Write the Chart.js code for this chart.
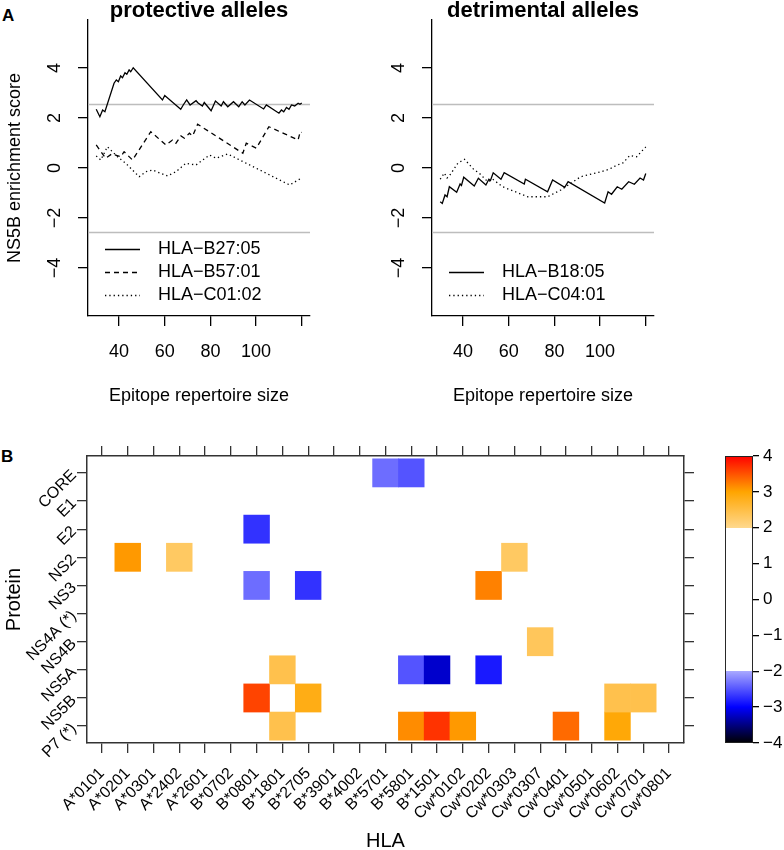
<!DOCTYPE html>
<html>
<head>
<meta charset="utf-8">
<script src="https://cdn.jsdelivr.net/npm/chart.js@4.4.1/dist/chart.umd.min.js"></script>
<style>
  body { margin: 0; background: #fff; }
  #wrap { position: relative; width: 784px; height: 850px; overflow: hidden; font-family: 'Liberation Sans', Arial, sans-serif; }
  canvas { position: absolute; }
  .panel { position: absolute; font-weight: bold; font-size: 17px; line-height: 20px; }
</style>
</head>
<body>
<div id="wrap">
  <div class="panel" style="left:2px;top:6px">A</div>
  <div class="panel" style="left:1px;top:447px">B</div>
  <canvas id="protective" width="330" height="416" style="left:0;top:-4px"></canvas>
  <canvas id="detrimental" width="330" height="416" style="left:344px;top:-4px"></canvas>
  <canvas id="heat" width="700" height="414" style="left:0;top:436px"></canvas>
  <canvas id="scale" width="72" height="414" style="left:712px;top:436px"></canvas>
</div>
<script>
// ---- panel A : NS5B running enrichment score vs epitope repertoire size ----
// protective alleles
const b2705X = [30, 31.6, 32.8, 33.8, 37.8, 38.8, 39.7, 40.7, 41.5, 42.6, 43.4, 44.4, 45.1, 46.2, 59, 60, 67, 68.1, 69.6, 71.1, 73.7, 74.6, 76.5, 77.3, 80.3, 82.2, 84.7, 85.7, 87.6, 90.1, 92.4, 93.9, 95.1, 97.1, 103.3, 104.5, 110, 111.1, 112.1, 113.3, 114.4, 115.5, 116.9, 118.4, 119.2, 120];
const b2705Y = [2.35, 2.05, 2.32, 2.25, 3.39, 3.52, 3.45, 3.68, 3.61, 3.81, 3.75, 3.92, 3.85, 4.01, 2.72, 2.9, 2.35, 2.52, 2.72, 2.52, 2.69, 2.6, 2.48, 2.62, 2.29, 2.68, 2.48, 2.65, 2.45, 2.65, 2.45, 2.65, 2.52, 2.72, 2.36, 2.52, 2.19, 2.32, 2.25, 2.42, 2.35, 2.52, 2.48, 2.59, 2.55, 2.6];

const b5701X = [30, 34.1, 36.8, 40.7, 42.2, 45.9, 53.9, 60.5, 63.4, 64.9, 67.1, 68.6, 70.8, 72.2, 74.4, 94.2, 95.7, 100.1, 105.6, 118.4, 119.3, 120];
const b5701Y = [0.92, 0.39, 0.56, 0.45, 0.65, 0.32, 1.45, 0.92, 1.12, 0.99, 1.28, 1.19, 1.39, 1.28, 1.75, 0.59, 0.99, 0.79, 1.65, 1.12, 1.45, 1.42];

const c0102X = [30, 32, 34.9, 37.1, 39.3, 42.9, 48.8, 51.7, 54.6, 61.2, 64.9, 69.3, 73.7, 79.6, 82.5, 87.6, 114.7, 118.4, 120];
const c0102Y = [0.48, 0.32, 0.85, 0.65, 0.45, 0.19, -0.35, -0.15, -0.08, -0.32, -0.15, 0.19, 0.12, 0.52, 0.39, 0.56, -0.68, -0.48, -0.4];

// detrimental alleles
const b1805X = [30, 30.9, 32.1, 33, 34, 37.2, 38.7, 39.3, 40.3, 44.9, 46.7, 50, 51.3, 52, 53.2, 56.6, 58, 66.8, 67.3, 77, 79.2, 84.5, 86, 102, 103.5, 105, 107.5, 109.5, 112.5, 115, 117.5, 119, 120];
const b1805Y = [-1.35, -1.42, -1.08, -1.15, -0.75, -0.97, -0.64, -0.7, -0.37, -0.72, -0.41, -0.68, -0.45, -0.5, -0.19, -0.45, -0.19, -0.64, -0.45, -0.95, -0.48, -0.77, -0.55, -1.4, -0.95, -1.05, -0.75, -0.85, -0.55, -0.65, -0.4, -0.48, -0.22];

const c0401X = [30, 31.8, 33, 34.5, 37.7, 40.6, 44.9, 47, 50.8, 53, 57.3, 68.3, 77, 82.8, 91.5, 100.3, 104, 107, 110, 113, 116, 118, 120];
const c0401Y = [-0.45, -0.2, -0.4, -0.25, 0.19, 0.35, -0.08, -0.2, -0.55, -0.45, -0.75, -1.15, -1.15, -0.88, -0.35, -0.15, -0.05, 0.1, 0.2, 0.5, 0.45, 0.65, 0.84];

const significance = 2.57;   // grey lines at +/- this score
const repertoireTicks = [40, 60, 80, 100, 120];
const repertoireLabels = ['40', '60', '80', '100', ''];
const scoreTicks = [-4, -2, 0, 2, 4];

// ---- panel B : heatmap of enrichment per protein / HLA ----
const proteins = ['CORE', 'E1', 'E2', 'NS2', 'NS3', 'NS4A (*)', 'NS4B', 'NS5A', 'NS5B', 'P7 (*)'];
const hlaAlleles = ['A*0101', 'A*0201', 'A*0301', 'A*2402', 'A*2601', 'B*0702', 'B*0801', 'B*1801', 'B*2705', 'B*3901', 'B*4002', 'B*5701', 'B*5801', 'B*1501', 'Cw*0102', 'Cw*0202', 'Cw*0303', 'Cw*0307', 'Cw*0401', 'Cw*0501', 'Cw*0602', 'Cw*0701', 'Cw*0801'];
const cellProtein = ['CORE', 'CORE', 'E2', 'NS2', 'NS2', 'NS2', 'NS3', 'NS3', 'NS3', 'NS4B', 'NS5A', 'NS5A', 'NS5A', 'NS5A', 'NS5B', 'NS5B', 'NS5B', 'NS5B', 'P7 (*)', 'P7 (*)', 'P7 (*)', 'P7 (*)', 'P7 (*)', 'P7 (*)'];
const cellHla = ['B*5701', 'B*5801', 'B*0801', 'A*0201', 'A*2402', 'Cw*0303', 'B*0801', 'B*2705', 'Cw*0202', 'Cw*0307', 'B*1801', 'B*5801', 'B*1501', 'Cw*0202', 'B*0801', 'B*2705', 'Cw*0602', 'Cw*0701', 'B*1801', 'B*5801', 'B*1501', 'Cw*0102', 'Cw*0401', 'Cw*0602'];
const cellScore = [-2.35, -2.5, -2.7, 3.07, 2.3, 2.3, -2.35, -2.7, 3.22, 2.35, 2.45, -2.5, -3.2, -2.85, 3.59, 2.85, 2.45, 2.45, 2.45, 3.15, 3.69, 3.07, 3.36, 2.95];

const colourBreaks = [-4, -3, -2, -2, 2, 2, 3, 4];
const colourKeyTicks = [-4, -3, -2, -1, 0, 1, 2, 3, 4];

// colour ramp used by both the cells and the key
const rampColours = ['#000000', '#0000ff', '#a8a8ff', '#ffffff', '#ffffff', '#ffd88c', '#ffa500', '#ff0000'];

Chart.defaults.font.family = "'Liberation Sans', Arial, sans-serif";
Chart.defaults.color = '#000';
Chart.defaults.animation = false;

const minus = v => (v < 0 ? '\u2212' + Math.abs(v) : String(v));

function hexRgb(h) {
  return [parseInt(h.slice(1, 3), 16), parseInt(h.slice(3, 5), 16), parseInt(h.slice(5, 7), 16)];
}

function scoreColour(v) {
  for (let i = 0; i < colourBreaks.length - 1; i++) {
    const a = colourBreaks[i], b = colourBreaks[i + 1];
    if (a === b) continue;
    if (v >= a && v <= b) {
      const t = (v - a) / (b - a);
      const c1 = hexRgb(rampColours[i]), c2 = hexRgb(rampColours[i + 1]);
      const c = c1.map((x, k) => Math.round(x + (c2[k] - x) * t));
      return 'rgb(' + c.join(',') + ')';
    }
  }
  return '#ffffff';
}

// horizontal grey reference lines
const refLines = {
  id: 'refLines',
  beforeDatasetsDraw(chart, args, opts) {
    const { ctx, chartArea: a, scales: { y } } = chart;
    ctx.save();
    ctx.strokeStyle = '#bdbdbd';
    ctx.lineWidth = 1.5;
    opts.values.forEach(v => {
      const py = Math.round(y.getPixelForValue(v)) + 0.5;
      ctx.beginPath();
      ctx.moveTo(a.left, py);
      ctx.lineTo(a.right, py);
      ctx.stroke();
    });
    ctx.restore();
  }
};

// legend drawn inside the bottom-left of the plot, no box
const inlineLegend = {
  id: 'inlineLegend',
  afterDatasetsDraw(chart) {
    const { ctx, chartArea: a } = chart;
    const sets = chart.data.datasets;
    ctx.save();
    ctx.font = "18px 'Liberation Sans', Arial, sans-serif";
    ctx.fillStyle = '#000';
    ctx.textBaseline = 'middle';
    sets.forEach((ds, i) => {
      const y = a.bottom - 21 - (sets.length - 1 - i) * 23;
      ctx.beginPath();
      ctx.setLineDash(ds.borderDash || []);
      ctx.lineWidth = ds.borderWidth;
      ctx.strokeStyle = ds.borderColor;
      ctx.moveTo(a.left + 17, y + 0.5);
      ctx.lineTo(a.left + 52, y + 0.5);
      ctx.stroke();
      ctx.fillText(ds.label, a.left + 70, y);
    });
    ctx.restore();
  }
};

function lineChart(id, title, series, yTitle) {
  return new Chart(document.getElementById(id), {
    type: 'line',
    data: {
      datasets: series.map(s => ({
        label: s.label,
        data: s.xs.map((x, i) => ({ x: x, y: s.ys[i] })),
        borderColor: '#000',
        borderWidth: 1.3,
        borderDash: s.dash,
        pointRadius: 0,
        tension: 0,
        fill: false
      }))
    },
    options: {
      responsive: false,
      devicePixelRatio: 1,
      layout: { padding: { left: 0, right: 20, top: 0, bottom: 0 } },
      plugins: {
        legend: { display: false },
        tooltip: { enabled: false },
        title: {
          display: true, text: title, fullSize: false, color: '#000',
          font: { size: 22, weight: 'bold', lineHeight: 0.64 },
          padding: { top: 8, bottom: 1.9 }
        },
        refLines: { values: [significance, -significance] }
      },
      scales: {
        x: {
          type: 'linear', min: 26.4, max: 123.6,
          afterBuildTicks: sc => { sc.ticks = repertoireTicks.map(v => ({ value: v })); },
          ticks: { callback: (v, i) => repertoireLabels[i], autoSkip: false, maxRotation: 0, font: { size: 18 }, padding: 15 },
          grid: { drawOnChartArea: false, tickLength: 10, color: '#000', lineWidth: 1.3 },
          border: { display: true, color: '#000', width: 1.3 },
          title: { display: true, text: 'Epitope repertoire size', font: { size: 18 }, padding: { top: 0, bottom: 5 } },
          afterFit: sc => { sc.height = 96; }
        },
        y: {
          type: 'linear', min: -5.92, max: 5.92,
          afterBuildTicks: sc => { sc.ticks = scoreTicks.map(v => ({ value: v })); },
          ticks: { callback: v => minus(v), minRotation: 90, maxRotation: 90, crossAlign: 'center', font: { size: 18 }, padding: 13 },
          grid: { drawOnChartArea: false, tickLength: 10, color: '#000', lineWidth: 1.3 },
          border: { display: true, color: '#000', width: 1.3 },
          title: { display: !!yTitle, text: yTitle || '', font: { size: 18 }, padding: { top: 4, bottom: 0 } },
          afterFit: sc => { sc.width = 88; }
        }
      }
    },
    plugins: [refLines, inlineLegend]
  });
}

lineChart('protective', 'protective alleles', [
  { label: 'HLA\u2212B27:05', xs: b2705X, ys: b2705Y, dash: [] },
  { label: 'HLA\u2212B57:01', xs: b5701X, ys: b5701Y, dash: [5, 4] },
  { label: 'HLA\u2212C01:02', xs: c0102X, ys: c0102Y, dash: [1.3, 3] }
], 'NS5B enrichment score');

lineChart('detrimental', 'detrimental alleles', [
  { label: 'HLA\u2212B18:05', xs: b1805X, ys: b1805Y, dash: [] },
  { label: 'HLA\u2212C04:01', xs: c0401X, ys: c0401Y, dash: [1.3, 3] }
], null);

// ---- heatmap ----
const heatSets = proteins.map((p, r) => {
  const idx = cellProtein.map((q, k) => (q === p ? k : -1)).filter(k => k >= 0);
  return {
    label: p,
    data: idx.map(k => ({ x: hlaAlleles.indexOf(cellHla[k]), y: [r - 0.5, r + 0.5] })),
    backgroundColor: idx.map(k => scoreColour(cellScore[k])),
    borderWidth: 0,
    barPercentage: 1,
    categoryPercentage: 1,
    grouped: false
  };
}).filter(ds => ds.data.length);

const colTicks = sc => { sc.ticks = hlaAlleles.map((h, i) => ({ value: i })); };
const rowTicks = sc => { sc.ticks = proteins.map((p, i) => ({ value: i })); };
const frameGrid = { drawOnChartArea: false, offset: false, tickLength: 10, color: '#333', lineWidth: 1.3 };
const frameBorder = { display: true, color: '#333', width: 1.5 };

new Chart(document.getElementById('heat'), {
  type: 'bar',
  data: { datasets: heatSets },
  options: {
    responsive: false,
    devicePixelRatio: 1,
    layout: { padding: 0 },
    plugins: { legend: { display: false }, tooltip: { enabled: false } },
    scales: {
      x: {
        type: 'linear', position: 'bottom', min: -0.58, max: 22.58, offset: false,
        afterBuildTicks: colTicks,
        ticks: { callback: (v, i) => hlaAlleles[i], autoSkip: false, minRotation: 45, maxRotation: 45, font: { size: 16 }, padding: 11 },
        grid: frameGrid, border: frameBorder,
        title: { display: true, text: 'HLA', font: { size: 20, lineHeight: 0.9 }, padding: { top: 0, bottom: 0 } },
        afterFit: sc => { sc.height = 107; }
      },
      x2: {
        type: 'linear', position: 'top', min: -0.58, max: 22.58, offset: false,
        afterBuildTicks: colTicks,
        ticks: { display: false },
        grid: frameGrid, border: frameBorder,
        afterFit: sc => { sc.height = 20; }
      },
      y: {
        type: 'linear', position: 'left', reverse: true, min: -0.6, max: 9.6,
        afterBuildTicks: rowTicks,
        ticks: { callback: (v, i) => proteins[i], autoSkip: false, minRotation: 45, maxRotation: 45, font: { size: 16 }, padding: 3 },
        grid: frameGrid, border: frameBorder,
        title: { display: true, text: 'Protein', font: { size: 20 }, padding: { top: 2, bottom: 0 } },
        afterFit: sc => { sc.width = 87; }
      },
      y2: {
        type: 'linear', position: 'right', reverse: true, min: -0.6, max: 9.6,
        afterBuildTicks: rowTicks,
        ticks: { display: false },
        grid: frameGrid, border: frameBorder,
        afterFit: sc => { sc.width = 16; }
      }
    }
  }
});

// ---- colour key ----
const keyMin = colourBreaks[0];
const keyMax = colourBreaks[colourBreaks.length - 1];

new Chart(document.getElementById('scale'), {
  type: 'bar',
  data: {
    labels: [''],
    datasets: [{
      data: [[keyMin, keyMax]],
      backgroundColor: c => {
        const chart = c.chart;
        if (!chart.chartArea) return null;
        const y = chart.scales.y;
        const g = chart.ctx.createLinearGradient(0, y.getPixelForValue(keyMin), 0, y.getPixelForValue(keyMax));
        colourBreaks.forEach((v, i) => g.addColorStop((v - keyMin) / (keyMax - keyMin), rampColours[i]));
        return g;
      },
      borderColor: '#222',
      borderWidth: 1.3,
      borderSkipped: false,
      barPercentage: 1,
      categoryPercentage: 1
    }]
  },
  options: {
    responsive: false,
    devicePixelRatio: 1,
    layout: { padding: { left: 13, right: 0, top: 20, bottom: 107 } },
    plugins: { legend: { display: false }, tooltip: { enabled: false } },
    scales: {
      x: { display: false },
      y: {
        position: 'right', min: keyMin, max: keyMax,
        afterBuildTicks: sc => { sc.ticks = colourKeyTicks.map(v => ({ value: v })); },
        ticks: { callback: v => minus(v), font: { size: 17 }, padding: 4 },
        grid: { drawOnChartArea: false, tickLength: 6, color: '#000', lineWidth: 1.3 },
        border: { display: false },
        afterFit: sc => { sc.width = 31; }
      }
    }
  }
});
</script>
</body>
</html>
